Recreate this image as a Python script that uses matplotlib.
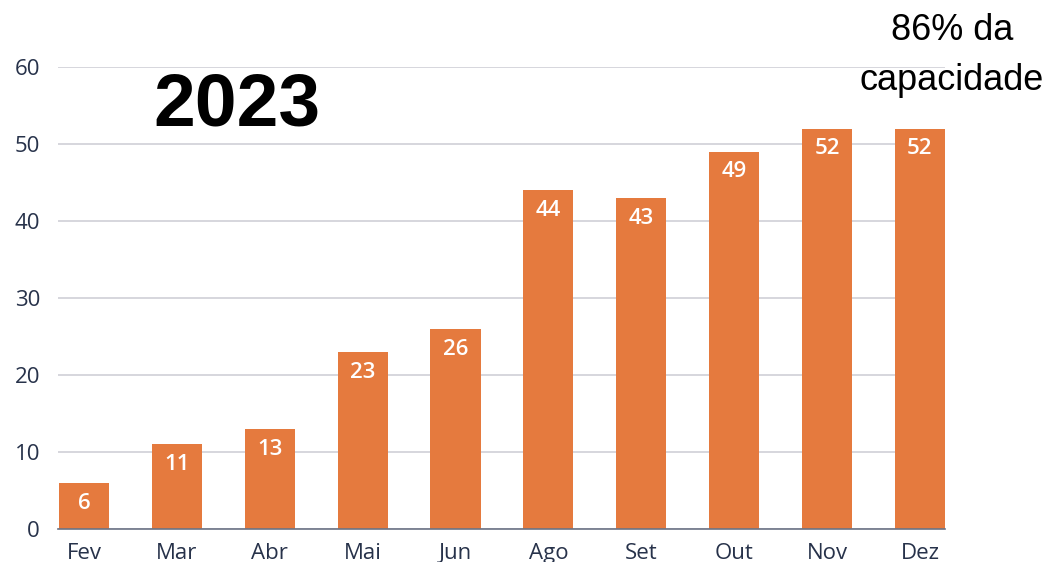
import matplotlib.pyplot as plt
import numpy as np

months = ["Fev", "Mar", "Abr", "Mai", "Jun", "Ago", "Set", "Out", "Nov", "Dez"]
values = [6, 11, 13, 23, 26, 44, 43, 49, 52, 52]
y_ticks = [0, 10, 20, 30, 40, 50, 60]

bar_color = "#E57A3E"
text_color = "#27324a"
grid_color = "#d3d3da"

fig = plt.figure(figsize=(10.5, 5.62), dpi=100)
ax = fig.add_axes([58 / 1050, 1 - 529 / 562, (945 - 58) / 1050, (529 - 67) / 562])

x = np.arange(len(months))
bars = ax.bar(x, values, width=0.54, color=bar_color, zorder=3)

for xi, v in zip(x, values):
    ax.annotate(str(v), (xi, v), xytext=(0, -7), textcoords="offset points",
                ha="center", va="top", color="white", fontsize=16,
                family="Open Sans", weight="semibold", zorder=4)

ax.set_xlim(-0.28, len(months) - 1 + 0.27)
ax.set_ylim(0, 60)
ax.set_yticks(y_ticks)
ax.set_xticks(x)
ax.set_xticklabels(months)
ax.yaxis.grid(True, color=grid_color, linewidth=1.3, zorder=0)
ax.set_axisbelow(True)

for side in ["top", "right", "left"]:
    ax.spines[side].set_visible(False)
ax.spines["bottom"].set_color("#6b7385")
ax.spines["bottom"].set_linewidth(1.2)
ax.spines["bottom"].set_zorder(5)

ax.tick_params(axis="both", length=0, colors=text_color, labelsize=16)
ax.tick_params(axis="y", pad=13)
ax.tick_params(axis="x", pad=10)
for lab in ax.get_xticklabels() + ax.get_yticklabels():
    lab.set_family("Open Sans")
    lab.set_weight("medium")

fig.text(237 / 1050, 1 - 125 / 562, "2023", ha="center", va="baseline",
         fontsize=54, weight="bold", family="Liberation Sans", color="black")
fig.text(952 / 1050, 1 - 30 / 562, "86% da", ha="center", va="center",
         fontsize=26, family="Liberation Sans", color="black")
fig.text(952 / 1050, 1 - 80 / 562, "capacidade", ha="center", va="center",
         fontsize=26, family="Liberation Sans", color="black")

fig.savefig("out.png", dpi=100)
